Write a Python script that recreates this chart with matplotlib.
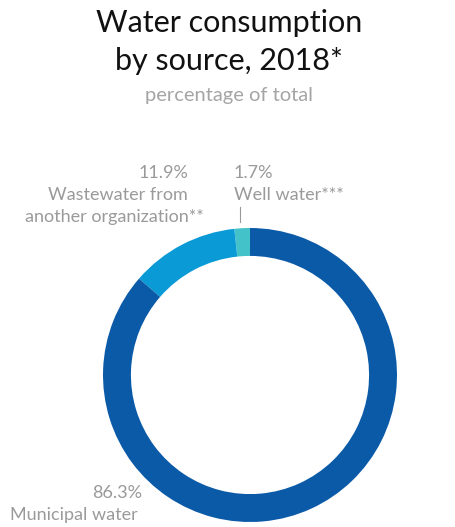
import matplotlib.pyplot as plt

# Data
sources = ["Well water***", "Wastewater from\nanother organization**", "Municipal water"]
shares = [1.7, 11.9, 86.3]
colors = ["#44c2c9", "#0a9ad6", "#0b5aa8"]

W, H = 455, 527
fig = plt.figure(figsize=(W / 100, H / 100), dpi=100)
plt.rcParams['font.family'] = ['Lato', 'DejaVu Sans']


def px(x, y):
    return x / W, 1 - y / H


# donut: centre (250, 375), radius 147 px
ax = fig.add_axes([103 / W, (H - 522) / H, 294 / W, 294 / H])
ax.pie(shares, colors=colors, startangle=90, counterclock=True,
       radius=1.0, wedgeprops=dict(width=0.19, edgecolor='none'))
ax.set_xlim(-1, 1)
ax.set_ylim(-1, 1)
ax.set_aspect('equal')
ax.axis('off')

# title
fig.text(*px(229, 32), "Water consumption", ha='center', va='baseline',
         fontsize=22, color='#111111')
fig.text(*px(229, 70), "by source, 2018*", ha='center', va='baseline',
         fontsize=22, color='#111111')
fig.text(*px(229, 101), "percentage of total", ha='center', va='baseline',
         fontsize=14.5, color='#a5a5a5')

grey = '#9a9a9a'
lab = dict(fontsize=13, color=grey, va='baseline')

# wastewater
fig.text(*px(188, 178), f"{shares[1]}%", ha='right', **lab)
fig.text(*px(188, 200), "Wastewater from", ha='right', **lab)
fig.text(*px(204, 222), "another organization**", ha='right', **lab)

# well water
fig.text(*px(234, 178), f"{shares[0]}%", ha='left', **lab)
fig.text(*px(234, 200), sources[0], ha='left', **lab)
fig.add_artist(plt.Line2D([240 / W, 240 / W], [1 - 207 / H, 1 - 222 / H],
                          color='#999999', lw=0.8))

# municipal
fig.text(*px(142, 498), f"{shares[2]}%", ha='right', **lab)
fig.text(*px(138, 520), sources[2], ha='right', **lab)

fig.savefig("out.png", dpi=100)
